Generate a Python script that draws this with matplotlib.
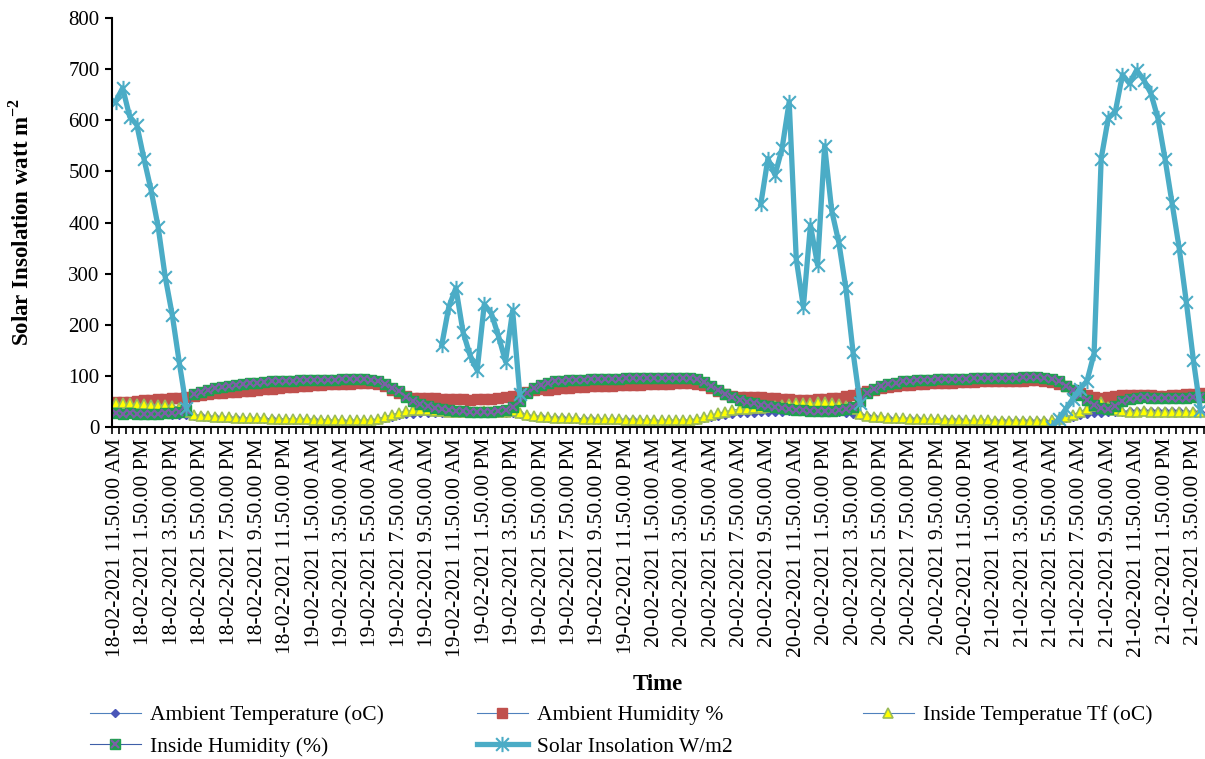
import numpy as np
import matplotlib
matplotlib.use('Agg')
import matplotlib.pyplot as plt
from matplotlib.path import Path
from matplotlib.legend_handler import HandlerTuple

plt.rcParams['font.family'] = ['Liberation Serif', 'DejaVu Serif']
plt.rcParams['mathtext.fontset'] = 'custom'
plt.rcParams['mathtext.rm'] = 'Liberation Serif'
plt.rcParams['mathtext.bf'] = 'Liberation Serif:bold'

# tick labels, one every 4th reading (readings every 30 min)
tick_labels = [
    '18-02-2021 11.50.00 AM', '18-02-2021 1.50.00 PM', '18-02-2021 3.50.00 PM',
    '18-02-2021 5.50.00 PM', '18-02-2021 7.50.00 PM', '18-02-2021 9.50.00 PM',
    '18-02-2021 11.50.00 PM',
    '19-02-2021 1.50.00 AM', '19-02-2021 3.50.00 AM', '19-02-2021 5.50.00 AM',
    '19-02-2021 7.50.00 AM', '19-02-2021 9.50.00 AM', '19-02-2021 11.50.00 AM',
    '19-02-2021 1.50.00 PM', '19-02-2021 3.50.00 PM', '19-02-2021 5.50.00 PM',
    '19-02-2021 7.50.00 PM', '19-02-2021 9.50.00 PM', '19-02-2021 11.50.00 PM',
    '20-02-2021 1.50.00 AM', '20-02-2021 3.50.00 AM', '20-02-2021 5.50.00 AM',
    '20-02-2021 7.50.00 AM', '20-02-2021 9.50.00 AM', '20-02-2021 11.50.00 AM',
    '20-02-2021 1.50.00 PM', '20-02-2021 3.50.00 PM', '20-02-2021 5.50.00 PM',
    '20-02-2021 7.50.00 PM', '20-02-2021 9.50.00 PM', '20-02-2021 11.50.00 PM',
    '21-02-2021 1.50.00 AM', '21-02-2021 3.50.00 AM', '21-02-2021 5.50.00 AM',
    '21-02-2021 7.50.00 AM', '21-02-2021 9.50.00 AM', '21-02-2021 11.50.00 AM',
    '21-02-2021 1.50.00 PM', '21-02-2021 3.50.00 PM',
]
label_every = 4

ambient_temp = [
    26, 26, 25, 25, 24, 24, 25, 25, 24, 24, 23,
    22, 21, 20, 19, 18, 17, 17, 16, 16, 15,
    15, 15, 14, 14, 14, 13, 13, 13, 12, 12,
    12, 12, 11, 11, 11, 12, 14, 17, 20, 23,
    25, 26, 27, 27, 28, 28, 29, 29, 30, 30,
    30, 29, 29, 28, 28, 27, 25, 22, 20, 19,
    18, 17, 17, 16, 16, 15, 15, 14, 14, 14,
    13, 13, 13, 12, 12, 12, 12, 11, 11, 11,
    12, 14, 17, 20, 22, 24, 26, 27, 28, 28,
    29, 29, 30, 30, 31, 31, 31, 31, 31, 30,
    30, 29, 28, 26, 23, 21, 19, 18, 17, 16,
    16, 15, 15, 14, 14, 14, 13, 13, 13, 12,
    12, 12, 12, 11, 11, 11, 11, 11, 11, 11,
    11, 12, 14, 17, 20, 23, 25, 27, 28, 29,
    30, 30, 31, 31, 31, 31, 32, 32, 31, 31,
    30, 30, 29,
]
ambient_humidity = [
    49, 48, 49, 50, 52, 53, 54, 55, 56, 57, 58,
    60, 62, 64, 66, 67, 68, 69, 70, 71, 72,
    74, 75, 76, 78, 79, 80, 81, 82, 83, 84,
    84, 85, 85, 86, 86, 86, 84, 80, 73, 66,
    60, 57, 56, 57, 56, 55, 55, 54, 54, 53,
    54, 55, 55, 56, 58, 61, 65, 69, 72, 75,
    73, 75, 76, 77, 78, 79, 80, 80, 81, 81,
    82, 82, 83, 83, 84, 84, 85, 85, 86, 86,
    86, 85, 82, 76, 70, 64, 60, 58, 58, 59,
    58, 57, 56, 55, 54, 53, 52, 53, 54, 55,
    56, 57, 60, 63, 66, 70, 73, 76, 78, 80,
    82, 83, 84, 85, 86, 86, 87, 87, 88, 88,
    88, 89, 89, 89, 90, 90, 90, 90, 91, 91,
    90, 88, 85, 80, 73, 67, 62, 58, 57, 58,
    60, 62, 62, 63, 62, 62, 61, 61, 62, 63,
    64, 65, 66,
]
inside_temp = [
    46, 47, 46, 45, 45, 44, 44, 43, 42, 38, 30,
    24, 22, 21, 20, 19, 19, 18, 18, 17, 17,
    17, 16, 16, 16, 15, 15, 15, 14, 14, 14,
    13, 13, 13, 13, 13, 14, 16, 20, 24, 28,
    31, 33, 34, 33, 32, 31, 30, 30, 29, 30,
    30, 31, 30, 29, 30, 32, 28, 23, 21, 20,
    19, 18, 18, 17, 17, 16, 16, 16, 15, 15,
    15, 14, 14, 14, 14, 13, 13, 13, 13, 13,
    14, 16, 19, 23, 27, 30, 33, 35, 36, 37,
    38, 40, 42, 44, 45, 46, 47, 47, 48, 48,
    47, 45, 42, 35, 26, 22, 20, 19, 18, 17,
    17, 16, 16, 15, 15, 15, 14, 14, 14, 13,
    13, 13, 13, 12, 12, 12, 12, 12, 12, 12,
    12, 13, 15, 19, 24, 30, 36, 42, 48, 40,
    33, 31, 30, 30, 31, 30, 30, 29, 29, 30,
    30, 29, 29,
]
inside_humidity = [
    27, 26, 27, 26, 25, 25, 26, 27, 27, 29, 33,
    64, 69, 73, 76, 79, 81, 83, 85, 86, 87,
    88, 89, 89, 90, 90, 91, 91, 91, 92, 92,
    92, 93, 93, 93, 93, 92, 89, 84, 77, 70,
    58, 50, 45, 41, 38, 35, 33, 32, 31, 30,
    30, 29, 30, 31, 34, 40, 50, 66, 77, 83,
    87, 89, 90, 91, 92, 92, 93, 93, 94, 94,
    94, 95, 95, 95, 95, 95, 96, 96, 96, 96,
    95, 93, 88, 80, 72, 64, 58, 53, 49, 46,
    43, 41, 39, 37, 35, 34, 33, 32, 31, 31,
    32, 33, 35, 39, 50, 66, 75, 80, 84, 87,
    89, 90, 91, 92, 92, 93, 93, 94, 94, 94,
    95, 95, 95, 96, 96, 96, 96, 97, 97, 97,
    96, 94, 89, 81, 72, 62, 52, 44, 38, 35,
    42, 51, 55, 57, 58, 57, 57, 56, 56, 57,
    57, 58, 58,
]
# solar readings only logged during daylight, None = no reading
solar = (
    [636, 663, 607, 591, 525, 464, 392, 294, 219, 125, 37]
    + [None] * 35
    + [160, 235, 272, 186, 140, 111, 240, 222, 178, 128, 228, 65]
    + [None] * 33
    + [436, 525, 493, 545, 636, 328, 235, 395, 317, 550, 423, 361, 271, 147, 46]
    + [None] * 26
    + [0, 15, 35, 55, 75, 90, 144, 525, 604, 617, 689, 672, 698, 679, 653,
       604, 525, 438, 350, 245, 131, 33]
)

n = len(ambient_temp)
x = np.arange(n)
solar = np.array(solar, dtype=float)

# excel style star marker: X plus a vertical bar
star = Path([(-1, -1), (1, 1), (-1, 1), (1, -1), (0, -1.2), (0, 1.2)],
            [Path.MOVETO, Path.LINETO] * 3)

fig = plt.figure(figsize=(12.05, 7.59), dpi=100)
ax = fig.add_axes([112/1205, 1-427/759, 1092/1205, 409/759])

thin = '#4F81BD'
l_at, = ax.plot(x, ambient_temp, '-', color=thin, lw=0.8, marker='D', ms=4.5,
                mfc='#4A56B8', mec='#4A56B8')
l_ah, = ax.plot(x, ambient_humidity, '-', color=thin, lw=0.8, marker='s', ms=6.5,
                mfc='#C0504D', mec='#C0504D')
l_it, = ax.plot(x, inside_temp, '-', color=thin, lw=0.8, marker='^', ms=6.5,
                mfc='#FFFF00', mec='#9BBB59', mew=1.2)
l_ih, = ax.plot(x, inside_humidity, '-', color='#3F5FA8', lw=0.8, marker='s', ms=6.5,
                mfc='#1FA050', mec='#1FA050')
l_ihx, = ax.plot(x, inside_humidity, 'none', marker='x', ms=5.5, mec='#7E5FA8', mew=1.5)
l_sol, = ax.plot(x, solar, '-', color='#4BACC6', lw=3.8, marker=star, ms=11,
                 mec='#4BACC6', mew=1.5)

ax.set_xlim(-0.5, n - 0.5)
ax.set_ylim(0, 800)
ax.set_yticks(np.arange(0, 801, 100))
ax.set_xticks(x[::label_every])
ax.set_xticklabels(tick_labels, rotation=90, fontsize=15.5)
ax.set_xticks(np.arange(n + 1) - 0.5, minor=True)
ax.tick_params(axis='x', which='major', length=0, pad=8)
ax.tick_params(axis='x', which='minor', length=5, width=1.2, direction='out')
ax.tick_params(axis='y', length=5, width=1.5, labelsize=15, pad=4)

for s in ['top', 'right']:
    ax.spines[s].set_visible(False)
ax.spines['left'].set_linewidth(1.5)
ax.spines['bottom'].set_linewidth(1.5)

ax.set_ylabel(r'Solar Insolation watt m$^{\mathbf{-2}}$', fontsize=16.5, fontweight='bold')
ax.yaxis.set_label_coords(-0.072, 0.5)
ax.set_xlabel('Time', fontsize=16.5, fontweight='bold')
ax.xaxis.set_label_coords(0.5, -0.605)

# legend laid out like excel: three equal columns
leg_kw = dict(loc='upper left', frameon=False, fontsize=15.5, handlelength=2.35,
              handletextpad=0.45, labelspacing=0.55, borderpad=0, borderaxespad=0)
cols = [
    ([l_at, (l_ih, l_ihx)], ['Ambient Temperature (oC)', 'Inside Humidity (%)'], 90),
    ([l_ah, l_sol], ['Ambient Humidity %', 'Solar Insolation W/m2'], 477),
    ([l_it], ['Inside Temperatue Tf (oC)'], 863),
]
for handles, labels, x0 in cols:
    fig.legend(handles, labels, bbox_to_anchor=(x0/1205, 1-705/759),
               handler_map={tuple: HandlerTuple(ndivide=1)}, **leg_kw)

plt.savefig('out.png', dpi=100)
